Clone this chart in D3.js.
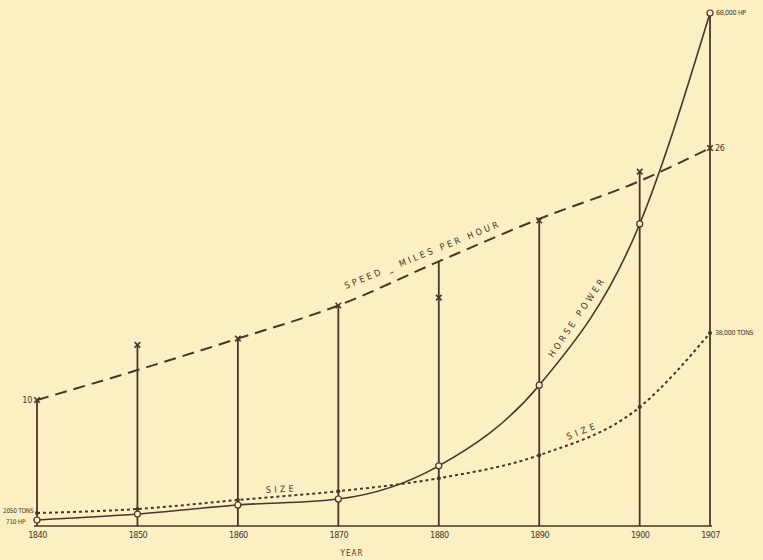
<!DOCTYPE html>
<html>
<head>
<meta charset="utf-8">
<script src="https://cdn.jsdelivr.net/npm/d3@7"></script>
<style>
  body { margin: 0; background: #fbefc3; }
  svg { display: block; }
  text { font-family: "DejaVu Sans Condensed", "Liberation Sans Narrow", sans-serif; fill: #4a3628; }
</style>
</head>
<body>
<div id="chart"></div>
<script>
// data
const years = [1840, 1850, 1860, 1870, 1880, 1890, 1900, 1907];
const yearLabels = ["1840", "1850", "1860", "1870", "1880", "1890", "1900", "1907"];
const speedCurve = [10, 11.9, 13.9, 16, 18.8, 21.5, 23.9, 26];   // miles per hour, dashed line
const speedMarks = [10, 13.5, 13.9, 16, 16.5, 21.4, 24.5, 26];   // x marks on the uprights
const horsePower = [710, 1500, 2700, 3500, 7900, 18600, 40000, 68000];
const sizeTons = [2050, 2850, 4650, 6400, 9000, 13600, 23200, 38000];

const width = 763, height = 560;
const ink = "#4a3628";

let svg = d3.select("#chart").append("svg")
    .attr("width", width)
    .attr("height", height);

let x = d3.scaleLinear().domain([1840, 1907]).range([37, 710]);
let ySpeed = d3.scaleLinear().domain([10, 26]).range([400, 148]);
let yHp = d3.scaleLinear().domain([710, 68000]).range([520, 13]);
let ySize = d3.scaleLinear().domain([2050, 38000]).range([513, 333]);
let baseY = 526;

// uprights from the base to the highest point for each year
svg.append("g").selectAll("line")
    .data(years)
    .enter()
    .append("line")
    .attr("x1", d => x(d))
    .attr("x2", d => x(d))
    .attr("y1", baseY)
    .attr("y2", (d, i) => Math.min(ySpeed(speedCurve[i]), ySpeed(speedMarks[i]), yHp(horsePower[i]), ySize(sizeTons[i])))
    .attr("stroke", ink)
    .attr("stroke-width", 1.8);

// base line
let xAxis = d3.axisBottom(x)
    .tickValues(years)
    .tickFormat((d, i) => yearLabels[i])
    .tickSize(0)
    .tickPadding(6);

let axisG = svg.append("g")
    .attr("transform", "translate(0," + baseY + ")")
    .call(xAxis);
axisG.select(".domain").attr("stroke", ink).attr("stroke-width", 1.6).attr("d", "M" + (x(1840) - 3) + ",0H" + (x(1907) + 2));
axisG.selectAll("text")
    .style("font-size", "9px")
    .attr("fill", ink)
    .attr("letter-spacing", "-0.5px");

svg.append("text")
    .attr("x", 352)
    .attr("y", 556)
    .attr("text-anchor", "middle")
    .style("font-size", "8px")
    .attr("letter-spacing", "1px")
    .text("YEAR");

// speed, dashed
let speedLine = d3.line()
    .x((d, i) => x(years[i]))
    .y(d => ySpeed(d))
    .curve(d3.curveMonotoneX);

svg.append("path")
    .datum(speedCurve)
    .attr("d", speedLine)
    .attr("fill", "none")
    .attr("stroke", ink)
    .attr("stroke-width", 2)
    .attr("stroke-dasharray", "12,7");

svg.append("g").selectAll("path")
    .data(speedMarks)
    .enter()
    .append("path")
    .attr("transform", (d, i) => "translate(" + x(years[i]) + "," + ySpeed(d) + ")")
    .attr("d", d3.symbol().type(d3.symbolTimes).size(22))
    .attr("fill", "none")
    .attr("stroke", ink)
    .attr("stroke-width", 1.6);

// horse power, solid
let hpLine = d3.line()
    .x((d, i) => x(years[i]))
    .y(d => yHp(d))
    .curve(d3.curveMonotoneX);

svg.append("path")
    .datum(horsePower)
    .attr("d", hpLine)
    .attr("fill", "none")
    .attr("stroke", ink)
    .attr("stroke-width", 1.6);

svg.append("g").selectAll("circle")
    .data(horsePower)
    .enter()
    .append("circle")
    .attr("cx", (d, i) => x(years[i]))
    .attr("cy", d => yHp(d))
    .attr("r", 3)
    .attr("fill", "#fbefc3")
    .attr("stroke", ink)
    .attr("stroke-width", 1.2);

// size, dotted
let sizeLine = d3.line()
    .x((d, i) => x(years[i]))
    .y(d => ySize(d))
    .curve(d3.curveMonotoneX);

svg.append("path")
    .datum(sizeTons)
    .attr("d", sizeLine)
    .attr("fill", "none")
    .attr("stroke", ink)
    .attr("stroke-width", 2)
    .attr("stroke-dasharray", "3,3");

svg.append("g").selectAll("circle")
    .data(sizeTons)
    .enter()
    .append("circle")
    .attr("cx", (d, i) => x(years[i]))
    .attr("cy", d => ySize(d))
    .attr("r", 2)
    .attr("fill", ink);

// end labels
function label(px, py, txt, size, anchor) {
    svg.append("text")
        .attr("x", px)
        .attr("y", py)
        .attr("text-anchor", anchor || "start")
        .attr("dominant-baseline", "middle")
        .style("font-size", size + "px")
        .attr("letter-spacing", "-0.3px")
        .text(txt);
}
label(x(1840) - 5, ySpeed(speedCurve[0]), "10", 9, "end");
label(3, ySize(sizeTons[0]) - 2, "2050 TONS", 6.5);
label(6, yHp(horsePower[0]) + 2, "710 HP", 6.5);
label(x(1907) + 6, yHp(horsePower[7]), "68,000 HP", 7);
label(x(1907) + 5, ySpeed(speedCurve[7]), "26", 9);
label(x(1907) + 5, ySize(sizeTons[7]), "38,000 TONS", 7);

// labels along the curves
function slanted(px, py, angle, txt, len) {
    svg.append("text")
        .attr("transform", "translate(" + px + "," + py + ") rotate(" + angle + ")")
        .attr("textLength", len)
        .attr("lengthAdjust", "spacing")
        .style("font-size", "9px")
        .text(txt);
}
slanted(346, 289, -22, "SPEED _  MILES  PER  HOUR", 165);
slanted(553, 358, -56, "HORSE  POWER", 92);
slanted(266, 493, -3, "SIZE", 28);
slanted(568, 440, -22, "SIZE", 30);
</script>
</body>
</html>
